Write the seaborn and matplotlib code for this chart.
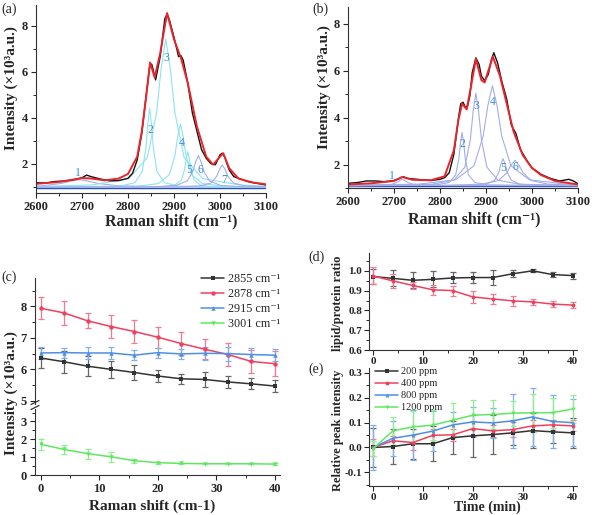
import numpy as np
import matplotlib
matplotlib.use("Agg")
import matplotlib.pyplot as plt
import seaborn as sns

# ---------------- (a) spectrum, control ----------------
a_x = [2600, 2620, 2640, 2660, 2680, 2700, 2710, 2720, 2740, 2760, 2780, 2800, 2810, 2820,
       2830, 2840, 2848, 2852, 2860, 2870, 2880, 2885, 2890, 2900, 2910, 2915, 2920, 2930,
       2940, 2950, 2960, 2970, 2980, 2990, 3000, 3005, 3010, 3020, 3030, 3040, 3060, 3080, 3100]
a_raw = [1.17, 1.15, 1.22, 1.24, 1.29, 1.38, 1.50, 1.43, 1.33, 1.25, 1.26, 1.36, 1.58, 2.16,
         3.32, 5.06, 6.36, 6.30, 5.64, 6.65, 8.30, 8.50, 8.25, 7.50, 6.65, 6.70, 6.50, 5.50,
         4.20, 3.40, 2.60, 2.23, 2.00, 1.95, 2.38, 2.45, 2.30, 1.72, 1.43, 1.36, 1.22, 1.14, 1.07]
a_fit_x = [2600, 2650, 2680, 2700, 2720, 2750, 2780, 2800, 2820, 2830, 2840, 2848, 2858, 2870,
           2885, 2900, 2915, 2930, 2950, 2970, 2985, 3000, 3007, 3020, 3040, 3070, 3100]
a_fit = [1.12, 1.20, 1.30, 1.37, 1.35, 1.27, 1.35, 1.55, 2.30, 3.40, 5.00, 6.40, 5.75, 6.80,
         8.55, 7.40, 6.60, 5.50, 3.60, 2.30, 1.95, 2.30, 2.45, 1.80, 1.35, 1.18, 1.10]
a_comp_x = [
    [2600, 2615, 2655, 2675, 2695, 2715, 2735, 2775, 2855, 3015, 3100],
    [2600, 2783, 2815, 2831, 2839, 2843, 2847, 2851, 2855, 2863, 2879, 2911, 3100],
    [2600, 2722, 2802, 2842, 2862, 2872, 2882, 2892, 2902, 2922, 2962, 3042, 3100],
    [2600, 2818, 2866, 2890, 2902, 2908, 2914, 2920, 2926, 2938, 2962, 3010, 3100],
    [2600, 2874, 2902, 2916, 2923, 2926.5, 2930, 2933.5, 2937, 2944, 2958, 2986, 3100],
    [2600, 2857, 2905, 2929, 2941, 2947, 2953, 2959, 2965, 2977, 3001, 3049, 3100],
    [2600, 2909, 2957, 2981, 2993, 2999, 3005, 3011, 3017, 3029, 3053, 3100],
]
a_comp_y = [
    [1.02, 1.04, 1.135, 1.23, 1.30, 1.23, 1.135, 1.04, 0.99, 0.975, 0.972],
    [0.97, 1.02, 1.17, 1.66, 2.69, 3.71, 4.40, 3.71, 2.69, 1.66, 1.17, 1.02, 0.97],
    [1.00, 1.07, 1.35, 2.26, 4.20, 6.13, 7.42, 6.13, 4.20, 2.26, 1.35, 1.07, 1.02],
    [0.974, 1.01, 1.13, 1.52, 2.35, 3.17, 3.72, 3.17, 2.35, 1.52, 1.13, 1.01, 0.98],
    [0.97, 0.99, 1.06, 1.28, 1.745, 2.21, 2.52, 2.21, 1.745, 1.28, 1.06, 0.99, 0.97],
    [0.97, 0.99, 1.05, 1.25, 1.66, 2.07, 2.35, 2.07, 1.66, 1.25, 1.05, 0.99, 0.98],
    [0.97, 0.985, 1.03, 1.16, 1.455, 1.75, 1.94, 1.75, 1.455, 1.16, 1.03, 0.985],
]
a_comp_colors = ["#a3aee8", "#8fe3f0", "#8fe3f0", "#8fe3f0", "#8fe3f0", "#a3aee8", "#a3aee8"]
a_labels = ["1", "2", "3", "4", "5", "6", "7"]
a_label_x = [2692, 2849, 2884, 2916, 2933, 2958, 3009]
a_label_y = [1.58, 3.46, 6.58, 2.88, 1.72, 1.72, 1.29]

# ---------------- (b) spectrum, treated ----------------
b_x = [2600, 2620, 2640, 2660, 2680, 2700, 2710, 2720, 2730, 2750, 2780, 2800, 2810, 2820,
       2830, 2840, 2845, 2850, 2855, 2860, 2865, 2870, 2878, 2885, 2890, 2897, 2905, 2912,
       2917, 2925, 2935, 2945, 2955, 2965, 2975, 2990, 3000, 3020, 3040, 3060, 3080, 3090, 3100]
b_raw = [1.20, 1.23, 1.30, 1.30, 1.27, 1.32, 1.39, 1.48, 1.41, 1.37, 1.32, 1.37, 1.44, 1.65,
         2.42, 3.96, 4.59, 4.66, 4.45, 4.50, 4.94, 5.92, 6.55, 6.27, 5.78, 5.57, 5.85, 6.49,
         6.77, 6.35, 5.50, 4.80, 3.68, 3.33, 2.63, 2.14, 1.86, 1.58, 1.41, 1.30, 1.37, 1.30, 1.18]
b_fit_x = [2600, 2650, 2700, 2718, 2740, 2780, 2810, 2830, 2840, 2848, 2858, 2868, 2878, 2890,
           2897, 2905, 2915, 2930, 2945, 2960, 2980, 3000, 3020, 3050, 3100]
b_fit = [1.15, 1.20, 1.30, 1.47, 1.35, 1.33, 1.50, 2.60, 3.90, 4.60, 4.35, 5.40, 6.50, 5.60,
         5.50, 6.00, 6.60, 5.80, 4.60, 3.40, 2.40, 1.85, 1.55, 1.30, 1.15]
b_comp_x = [
    [2600, 2622, 2670, 2694, 2706, 2712, 2718, 2724, 2730, 2742, 2766, 2814, 3100],
    [2600, 2792, 2820, 2834, 2841, 2844.5, 2848, 2851.5, 2855, 2862, 2876, 2904, 3100],
    [2600, 2782, 2830, 2854, 2866, 2872, 2878, 2884, 2890, 2902, 2926, 2974, 3100],
    [2600, 2754, 2834, 2874, 2894, 2904, 2914, 2924, 2934, 2954, 2994, 3074, 3100],
    [2600, 2865, 2901, 2919, 2928, 2932.5, 2937, 2941.5, 2946, 2955, 2973, 3009, 3100],
    [2600, 2819, 2891, 2927, 2945, 2954, 2963, 2972, 2981, 2999, 3035, 3100],
]
b_comp_y = [
    [1.10, 1.104, 1.116, 1.154, 1.235, 1.316, 1.37, 1.316, 1.235, 1.154, 1.116, 1.104, 1.10],
    [1.10, 1.134, 1.234, 1.554, 2.235, 2.916, 3.37, 2.916, 2.235, 1.554, 1.234, 1.134, 1.10],
    [1.107, 1.159, 1.332, 1.888, 3.07, 4.25, 5.04, 4.25, 3.07, 1.888, 1.332, 1.159, 1.112],
    [1.117, 1.164, 1.351, 1.952, 3.23, 4.51, 5.36, 4.51, 3.23, 1.952, 1.351, 1.164, 1.149],
    [1.10, 1.117, 1.168, 1.33, 1.675, 2.02, 2.25, 2.02, 1.675, 1.33, 1.168, 1.117, 1.104],
    [1.103, 1.116, 1.164, 1.316, 1.64, 1.964, 2.18, 1.964, 1.64, 1.316, 1.164, 1.118],
]
b_labels = ["1", "2", "3", "4", "5", "6"]
b_label_x = [2695, 2849, 2878, 2914, 2938, 2963]
b_label_y = [1.50, 2.88, 4.50, 4.66, 1.86, 1.88]

# ---------------- (c) band intensities vs time ----------------
c_time = [0, 4, 8, 12, 16, 20, 24, 28, 32, 36, 40]
c_bands = ["2855 cm\u207b\u00b9", "2878 cm\u207b\u00b9", "2915 cm\u207b\u00b9", "3001 cm\u207b\u00b9"]
c_2855 = [6.36, 6.24, 6.10, 6.00, 5.90, 5.79, 5.70, 5.68, 5.60, 5.54, 5.47]
c_2855_err = [0.33, 0.34, 0.32, 0.27, 0.24, 0.19, 0.16, 0.23, 0.20, 0.17, 0.20]
c_2878 = [7.94, 7.79, 7.54, 7.36, 7.20, 7.02, 6.82, 6.64, 6.47, 6.25, 6.18]
c_2878_err = [0.35, 0.37, 0.24, 0.36, 0.36, 0.33, 0.35, 0.32, 0.37, 0.35, 0.40]
c_2915 = [6.52, 6.53, 6.52, 6.52, 6.45, 6.53, 6.49, 6.51, 6.50, 6.47, 6.45]
c_2915_err = [0.20, 0.16, 0.20, 0.18, 0.15, 0.16, 0.16, 0.20, 0.22, 0.22, 0.20]
c_3001 = [1.72, 1.43, 1.20, 1.02, 0.80, 0.69, 0.65, 0.63, 0.63, 0.63, 0.61]
c_3001_err = [0.32, 0.27, 0.28, 0.28, 0.12, 0.05, 0.04, 0.04, 0.04, 0.04, 0.04]

# ---------------- (d) lipid/protein ratio ----------------
d_200 = [0.971, 0.962, 0.952, 0.957, 0.964, 0.966, 0.966, 0.985, 1.000, 0.981, 0.976]
d_200_err = [0.040, 0.040, 0.040, 0.040, 0.028, 0.027, 0.037, 0.017, 0.007, 0.012, 0.015]
d_400 = [0.974, 0.949, 0.926, 0.904, 0.900, 0.868, 0.858, 0.848, 0.843, 0.832, 0.827]
d_400_err = [0.043, 0.037, 0.020, 0.026, 0.025, 0.030, 0.026, 0.027, 0.015, 0.014, 0.015]

# ---------------- (e) relative peak intensity ----------------
e_conc = ["200 ppm", "400 ppm", "800 ppm", "1200 ppm"]
e_200 = [0.000, 0.004, 0.015, 0.015, 0.040, 0.047, 0.052, 0.059, 0.068, 0.063, 0.059]
e_200_err = [0.080, 0.070, 0.060, 0.070, 0.065, 0.085, 0.080, 0.050, 0.070, 0.045, 0.060]
e_400 = [0.000, 0.027, 0.020, 0.049, 0.051, 0.076, 0.067, 0.072, 0.087, 0.091, 0.087]
e_400_err = [0.035, 0.020, 0.030, 0.025, 0.025, 0.030, 0.025, 0.030, 0.025, 0.020, 0.022]
e_800 = [0.000, 0.037, 0.050, 0.066, 0.091, 0.103, 0.099, 0.107, 0.123, 0.105, 0.100]
e_800_err = [0.090, 0.070, 0.100, 0.080, 0.050, 0.060, 0.060, 0.110, 0.115, 0.107, 0.095]
e_1200 = [-0.005, 0.067, 0.083, 0.090, 0.110, 0.130, 0.133, 0.138, 0.140, 0.140, 0.155]
e_1200_err = [0.030, 0.055, 0.065, 0.060, 0.070, 0.060, 0.058, 0.050, 0.077, 0.060, 0.055]

colors = ["#333333", "#f0405f", "#4d8fe8", "#5fe85f"]
err_colors = ["#666666", "#f37a90", "#7fb0ee", "#8ef08e"]
markers = ["s", "o", "^", "v"]

sns.set_theme(style="ticks")
plt.rcParams["font.family"] = ["Liberation Serif", "DejaVu Serif"]
plt.rcParams["font.weight"] = "bold"
plt.rcParams["axes.labelweight"] = "bold"
plt.rcParams["xtick.direction"] = "out"
plt.rcParams["ytick.direction"] = "out"
plt.rcParams["axes.linewidth"] = 0.8
plt.rcParams["axes.edgecolor"] = "#333333"

fig = plt.figure(figsize=(5.92, 5.15), dpi=100)
W, H = 592.0, 515.0


def box(left, top, right, bottom):
    return [left / W, 1 - bottom / H, (right - left) / W, (bottom - top) / H]


def style(ax, size, pad=2.5):
    sns.despine(ax=ax)
    ax.tick_params(labelsize=size, length=3.5, width=0.8, pad=pad)
    ax.tick_params(which="minor", length=2, width=0.7)


def spectrum(ax, x, raw, fx, fit, cx, cy, ccol, labs, lx, ly, base, ylim, xlab, ylab):
    ax.axhline(base, color="#2a4fc0", lw=1.0)
    for xs, ys, col in zip(cx, cy, ccol):
        sns.lineplot(x=xs, y=ys, ax=ax, color=col, lw=0.8, estimator=None, errorbar=None)
    sns.lineplot(x=x, y=raw, ax=ax, color="#111111", lw=1.0, estimator=None, errorbar=None)
    sns.lineplot(x=fx, y=fit, ax=ax, color="#e8242c", lw=1.4, estimator=None, errorbar=None)
    for t, px, py in zip(labs, lx, ly):
        ax.text(px, py, t, color="#3f8fdc", fontsize=8.5, fontweight="normal",
                ha="center", va="center")
    ax.set_xlim(2600, 3100)
    ax.set_ylim(*ylim)
    ax.set_xticks([2600, 2700, 2800, 2900, 3000, 3100])
    ax.set_xticks(np.arange(2650, 3100, 100), minor=True)
    ax.set_yticks([2, 4, 6, 8])
    ax.set_yticks([1, 3, 5, 7], minor=True)
    ax.set_xlabel("Raman shift (cm\u207b\u00b9)", fontsize=11.5)
    ax.set_ylabel("Intensity (\u00d710\u00b3a.u.)", fontsize=11)
    ax.xaxis.set_label_coords(*xlab)
    ax.yaxis.set_label_coords(*ylab)
    style(ax, 9)


ax_a = fig.add_axes(box(36, 5, 266, 193))
spectrum(ax_a, a_x, a_raw, a_fit_x, a_fit, a_comp_x, a_comp_y, a_comp_colors,
         a_labels, a_label_x, a_label_y, 0.93, (0.72, 8.9), (0.59, -0.11), (-0.08, 0.56))

ax_b = fig.add_axes(box(348, 7, 578, 188))
spectrum(ax_b, b_x, b_raw, b_fit_x, b_fit, b_comp_x, b_comp_y, ["#a3aee8"] * 6,
         b_labels, b_label_x, b_label_y, 1.08, (1.06, 8.72), (0.55, -0.13), (-0.074, 0.56))


def series(ax, ys, errs, i, label=None, ms=3.2):
    ax.errorbar(c_time, ys, yerr=errs, fmt="none", ecolor=err_colors[i], elinewidth=0.9,
                capsize=2.5, capthick=0.9, zorder=2)
    sns.lineplot(x=c_time, y=ys, ax=ax, color=colors[i], lw=1.1, marker=markers[i],
                 markersize=ms, markeredgewidth=0, label=label, estimator=None,
                 errorbar=None, zorder=3, legend=False)


# ---------------- (c) broken axis ----------------
ax_c1 = fig.add_axes(box(35, 278, 280, 404))
ax_c2 = fig.add_axes(box(35, 409, 280, 475))
c_vals = [c_2855, c_2878, c_2915, c_3001]
c_errs = [c_2855_err, c_2878_err, c_2915_err, c_3001_err]
for i in range(3):
    series(ax_c1, c_vals[i], c_errs[i], i, c_bands[i])
series(ax_c2, c_3001, c_3001_err, 3, c_bands[3])
for ax in (ax_c1, ax_c2):
    ax.set_xlim(-1.0, 40.9)
    ax.set_xticks([0, 10, 20, 30, 40])
    ax.set_xticks([5, 15, 25, 35], minor=True)
ax_c1.set_ylim(4.9, 8.9)
ax_c1.set_yticks([5, 6, 7, 8])
ax_c1.set_yticks([5.5, 6.5, 7.5, 8.5], minor=True)
ax_c2.set_ylim(0, 3.7)
ax_c2.set_yticks([0, 1, 2, 3])
ax_c2.set_yticks([0.5, 1.5, 2.5, 3.5], minor=True)
style(ax_c1, 9)
style(ax_c2, 9)
ax_c1.spines["bottom"].set_visible(False)
ax_c1.tick_params(axis="x", which="both", bottom=False, labelbottom=False)
ax_c2.set_xlabel("Raman shift (cm-1)", fontsize=11)
ax_c2.xaxis.set_label_coords(0.48, -0.37)
fig.text(11 / W, 1 - 393 / H, "Intensity (\u00d710\u00b3a.u.)", rotation=90, fontsize=11,
         ha="center", va="center")
for yy in (402.5, 407.5):
    fig.add_artist(plt.Line2D([31 / W, 39 / W], [1 - (yy + 2) / H, 1 - (yy - 2) / H],
                              color="#333333", lw=0.9))
h, l = [], []
for ax in (ax_c1, ax_c2):
    hh, ll = ax.get_legend_handles_labels()
    h += hh
    l += ll
fig.legend(h, l, loc="upper right", bbox_to_anchor=(286 / W, 1 - 267 / H), frameon=False,
           prop={"size": 8.7, "weight": "normal"}, labelspacing=0.25, handlelength=1.9,
           handletextpad=0.3, borderpad=0)

# ---------------- (d) ----------------
ax_d = fig.add_axes(box(369, 253, 577, 350))
series(ax_d, d_200, d_200_err, 0, ms=2.8)
series(ax_d, d_400, d_400_err, 1, ms=2.8)
ax_d.set_xlim(-0.8, 40.9)
ax_d.set_ylim(0.6, 1.09)
ax_d.set_xticks([0, 10, 20, 30, 40])
ax_d.set_xticks([5, 15, 25, 35], minor=True)
ax_d.set_yticks([0.6, 0.7, 0.8, 0.9, 1.0])
ax_d.set_yticks([0.65, 0.75, 0.85, 0.95, 1.05], minor=True)
ax_d.yaxis.set_major_formatter(matplotlib.ticker.FormatStrFormatter("%.1f"))
style(ax_d, 8, pad=1.5)
ax_d.set_ylabel("lipid/protein ratio", fontsize=9)
ax_d.yaxis.set_label_coords(-0.118, 0.48)

# ---------------- (e) ----------------
ax_e = fig.add_axes(box(369, 368, 577, 486))
e_vals = [e_200, e_400, e_800, e_1200]
e_errs = [e_200_err, e_400_err, e_800_err, e_1200_err]
for i in range(4):
    series(ax_e, e_vals[i], e_errs[i], i, e_conc[i], ms=2.8)
ax_e.set_xlim(-0.8, 40.9)
ax_e.set_ylim(-0.155, 0.32)
ax_e.set_xticks([0, 10, 20, 30, 40])
ax_e.set_xticks([5, 15, 25, 35], minor=True)
ax_e.set_yticks([-0.1, 0.0, 0.1, 0.2, 0.3])
ax_e.set_yticks([-0.15, -0.05, 0.05, 0.15, 0.25], minor=True)
ax_e.yaxis.set_major_formatter(matplotlib.ticker.FormatStrFormatter("%.1f"))
style(ax_e, 8, pad=1.5)
ax_e.set_ylabel("Relative peak intensity", fontsize=9)
ax_e.yaxis.set_label_coords(-0.122, 0.47)
ax_e.set_xlabel("Time (min)", fontsize=10)
ax_e.xaxis.set_label_coords(0.57, -0.125)
hh, ll = ax_e.get_legend_handles_labels()
ax_e.legend(hh, ll, loc="upper left", bbox_to_anchor=(370 / W, 1 - 362 / H),
            bbox_transform=fig.transFigure, frameon=False,
            prop={"size": 7.5, "weight": "normal"}, labelspacing=0.25,
            handlelength=2.2, handletextpad=0.3, borderpad=0)

# panel letters
for t, px, py in [("(a)", 1, 9), ("(b)", 312, 9), ("(c)", 1, 277), ("(d)", 308, 257),
                  ("(e)", 308, 369)]:
    fig.text(px / W, 1 - py / H, t, fontsize=10, fontweight="normal", va="center", ha="left")

# make sure every tick label ends up bold
fig.canvas.draw()
for ax in fig.axes:
    for lab in ax.get_xticklabels() + ax.get_yticklabels():
        lab.set_fontweight("bold")

fig.savefig("out.png", dpi=100)
